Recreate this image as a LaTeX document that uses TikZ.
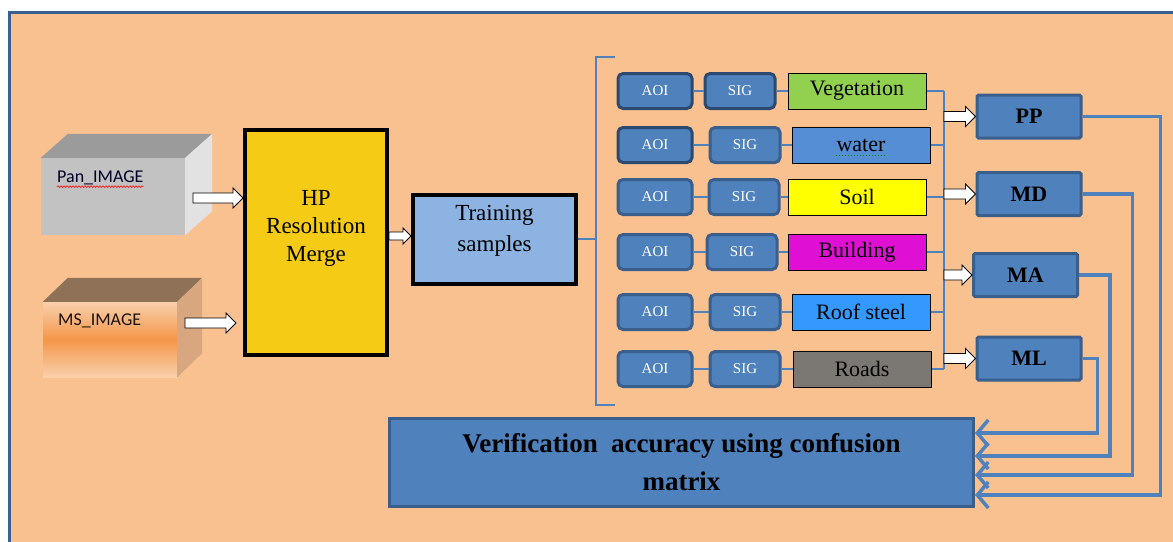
\documentclass[tikz,border=0pt]{standalone}
\usepackage{fontspec}
\setmainfont{Liberation Serif}
\newfontfamily\calibri{Carlito}
\usepackage{xcolor}
\usetikzlibrary{arrows.meta,calc,shapes,decorations.pathmorphing}

\definecolor{peach}{HTML}{F9C190}
\definecolor{frameblue}{HTML}{3B6090}
\definecolor{boxblue}{HTML}{4F81BD}
\definecolor{boxedge}{HTML}{3A5F8C}
\definecolor{darkedge}{HTML}{2C4A70}
\definecolor{trainblue}{HTML}{8DB3E2}
\definecolor{hpyellow}{HTML}{F5CB15}
\definecolor{vegcol}{HTML}{92D050}
\definecolor{watercol}{HTML}{558ED5}
\definecolor{soilcol}{HTML}{FFFF00}
\definecolor{buildcol}{HTML}{DF10D3}
\definecolor{roofcol}{HTML}{3399FF}
\definecolor{roadcol}{HTML}{7B7873}
\definecolor{panfront}{HTML}{C2C2C2}
\definecolor{pantop}{HTML}{9B9B9B}
\definecolor{panside}{HTML}{E2E2E2}
\definecolor{mstop}{HTML}{8E7157}
\definecolor{msside}{HTML}{D9A77F}
\definecolor{msmid}{HTML}{F4964A}
\definecolor{mslight}{HTML}{F8D0AC}

% white block arrow, horizontal, drawn at the height of the start point
\newcommand{\fatarrow}[3][5]{%
  \filldraw[fill=white,draw=black,line width=0.9pt]
    let \p1=#2, \p2=#3 in
    (\x1,\y1+#1pt) -- (\x2-2*#1pt,\y1+#1pt) -- (\x2-2*#1pt,\y1+2*#1pt) -- (\x2,\y1)
    -- (\x2-2*#1pt,\y1-2*#1pt) -- (\x2-2*#1pt,\y1-#1pt) -- (\x1,\y1-#1pt) -- cycle;}

\begin{document}
\begin{tikzpicture}[x=1pt, y=-1pt,
  aoibox/.style={draw=boxedge, line width=3pt, fill=boxblue, rounded corners=5pt,
    text=white, font=\fontsize{15}{15}\selectfont, minimum width=74pt, minimum height=35pt, inner sep=0pt},
  sigbox/.style={aoibox, minimum width=70pt},
  clsbox/.style={draw=black, line width=1pt, font=\fontsize{22}{22}\selectfont,
    minimum width=138pt, minimum height=36pt, inner sep=0pt},
  algbox/.style={draw=boxedge, line width=3pt, fill=boxblue, rounded corners=1.5pt,
    font=\bfseries\fontsize{22}{22}\selectfont, minimum width=104pt, minimum height=43pt, inner sep=0pt},
  thinlink/.style={draw=boxblue, line width=1.6pt},
  backlink/.style={draw=boxblue, line width=3.5pt, -{Straight Barb[length=11pt,width=26pt]}},
]
	\useasboundingbox (0,0) rectangle (1173,541);
	\clip (0,0) rectangle (1173,541);
	\fill[white] (0,0) rectangle (1173,541);
	\filldraw[fill=peach, draw=frameblue, line width=3.5pt] (9.5,12.5) rectangle (1200,570);

	% input images as boxes
	\node[fill=panfront, minimum width=144pt, minimum height=77pt, inner sep=0pt] (pan) at (113,196.5) {};
	\fill[pantop] (pan.north west) -- ++(27,-24) -- ([shift={(27,-24)}]pan.north east) -- (pan.north east) -- cycle;
	\fill[panside] (pan.north east) -- ++(27,-24) -- ([shift={(27,-24)}]pan.south east) -- (pan.south east) -- cycle;
	\node[font=\calibri\fontsize{18}{18}\selectfont, text=black!85!blue, anchor=west, inner sep=0pt] (pantxt) at (57,178) {Pan\_IMAGE};
	\draw[red, line width=0.6pt, decorate, decoration={snake, amplitude=0.8pt, segment length=3pt}]
	  ([shift={(0,4)}]pantxt.base west) -- ([shift={(0,4)}]pantxt.base east);

	\node[top color=mslight, bottom color=mslight, middle color=msmid, minimum width=134pt, minimum height=75pt, inner sep=0pt] (ms) at (110,339.5) {};
	\fill[mstop] (ms.north west) -- ++(25,-24) -- ([shift={(25,-24)}]ms.north east) -- (ms.north east) -- cycle;
	\fill[msside] (ms.north east) -- ++(25,-24) -- ([shift={(25,-24)}]ms.south east) -- (ms.south east) -- cycle;
	\node[font=\calibri\fontsize{18}{18}\selectfont, text=black!85!brown, anchor=west, inner sep=0pt] (mstxt) at (58,321) {MS\_IMAGE};

	% merge and training
	\node[draw=black, line width=4pt, fill=hpyellow, minimum width=142pt, minimum height=225pt] (hp) at (316,242.5) {};
	\node[align=center, font=\fontsize{23}{28}\selectfont] (hptxt) at (316,228) {HP\\Resolution\\Merge};
	\node[draw=black, line width=4pt, fill=trainblue, minimum width=163pt, minimum height=89pt] (train) at (494.5,239) {};
	\node[align=center, font=\fontsize{23}{31}\selectfont] (traintxt) at (494.5,231) {Training\\samples};

	\coordinate (panout) at (193,198);
	\coordinate (msout) at (185,323);
	\fatarrow{(panout)}{(hp.west)}
	\fatarrow{(msout)}{($(hp.west)+(-7,0)$)}
	\fatarrow[4]{($(hp.east)+(0,-6.5)$)}{(train.west)}

	% bracket over the class rows
	\coordinate (brtop) at (596,57);
	\coordinate (brbot) at (596,405);
	\draw[boxblue, line width=2.5pt] ([xshift=19pt]brtop) -- (brtop) -- (brbot) -- ([xshift=19pt]brbot);
	\draw[thinlink] (train.east) -- (train.east -| brtop);

	% AOI -> SIG -> class rows
	\coordinate (busx) at (944,0);
	\foreach \n/\y/\sx/\cx/\ae/\se/\lab/\col in {
	    1/91/740/857/darkedge/darkedge/Vegetation/vegcol,
	    2/145/745/861/darkedge/boxedge/water/watercol,
	    3/197/744/857/boxedge/boxedge/Soil/soilcol,
	    4/252/742/857/boxedge/boxedge/Building/buildcol,
	    5/312/745/861/boxedge/boxedge/Roof steel/roofcol,
	    6/369/745/862/boxedge/boxedge/Roads/roadcol}{
	  \node[aoibox, draw=\ae] (aoi\n) at (655,\y) {AOI};
	  \node[sigbox, draw=\se] (sig\n) at (\sx,\y) {SIG};
	  \node[clsbox, fill=\col] (cls\n) at (\cx,\y) {\lab};
	  \draw[thinlink] (aoi\n) -- (sig\n);
	  \draw[thinlink] (sig\n) -- (cls\n);
	  \draw[thinlink] (cls\n.east) -- (busx |- cls\n.east);
	}
	\draw[green!55!black, dotted, line width=1pt] ([shift={(-25,4)}]cls2.base) -- ([shift={(25,4)}]cls2.base);
	\draw[thinlink] (busx |- cls1.east) -- (busx |- cls6.east);

	% classifiers
	\node[algbox] (pp) at (1029,116.5) {PP};
	\node[algbox] (md) at (1029,194) {MD};
	\node[algbox] (ma) at (1025.5,275) {MA};
	\node[algbox] (ml) at (1029,358.5) {ML};
	\foreach \a in {pp,md,ma,ml}{
	  \fatarrow{(busx |- \a)}{(\a.west)}
	}

	\node[draw=boxedge, line width=3pt, fill=boxblue, minimum width=584pt, minimum height=88pt,
	  align=center, font=\bfseries\fontsize{27}{38}\selectfont] (ver) at (681.5,462.5)
	  {Verification\ \ accuracy using confusion\\matrix};

	\draw[backlink] (pp.east) -- ++(78,0) |- ([shift={(0,32.5)}]ver.east);
	\draw[backlink] (md.east) -- ++(50,0) |- ([shift={(0,12.5)}]ver.east);
	\draw[backlink] (ma.east) -- ++(31,0) |- ([shift={(0,-6.5)}]ver.east);
	\draw[backlink] (ml.east) -- ++(15,0) |- ([shift={(0,-29.5)}]ver.east);
\end{tikzpicture}
\end{document}
